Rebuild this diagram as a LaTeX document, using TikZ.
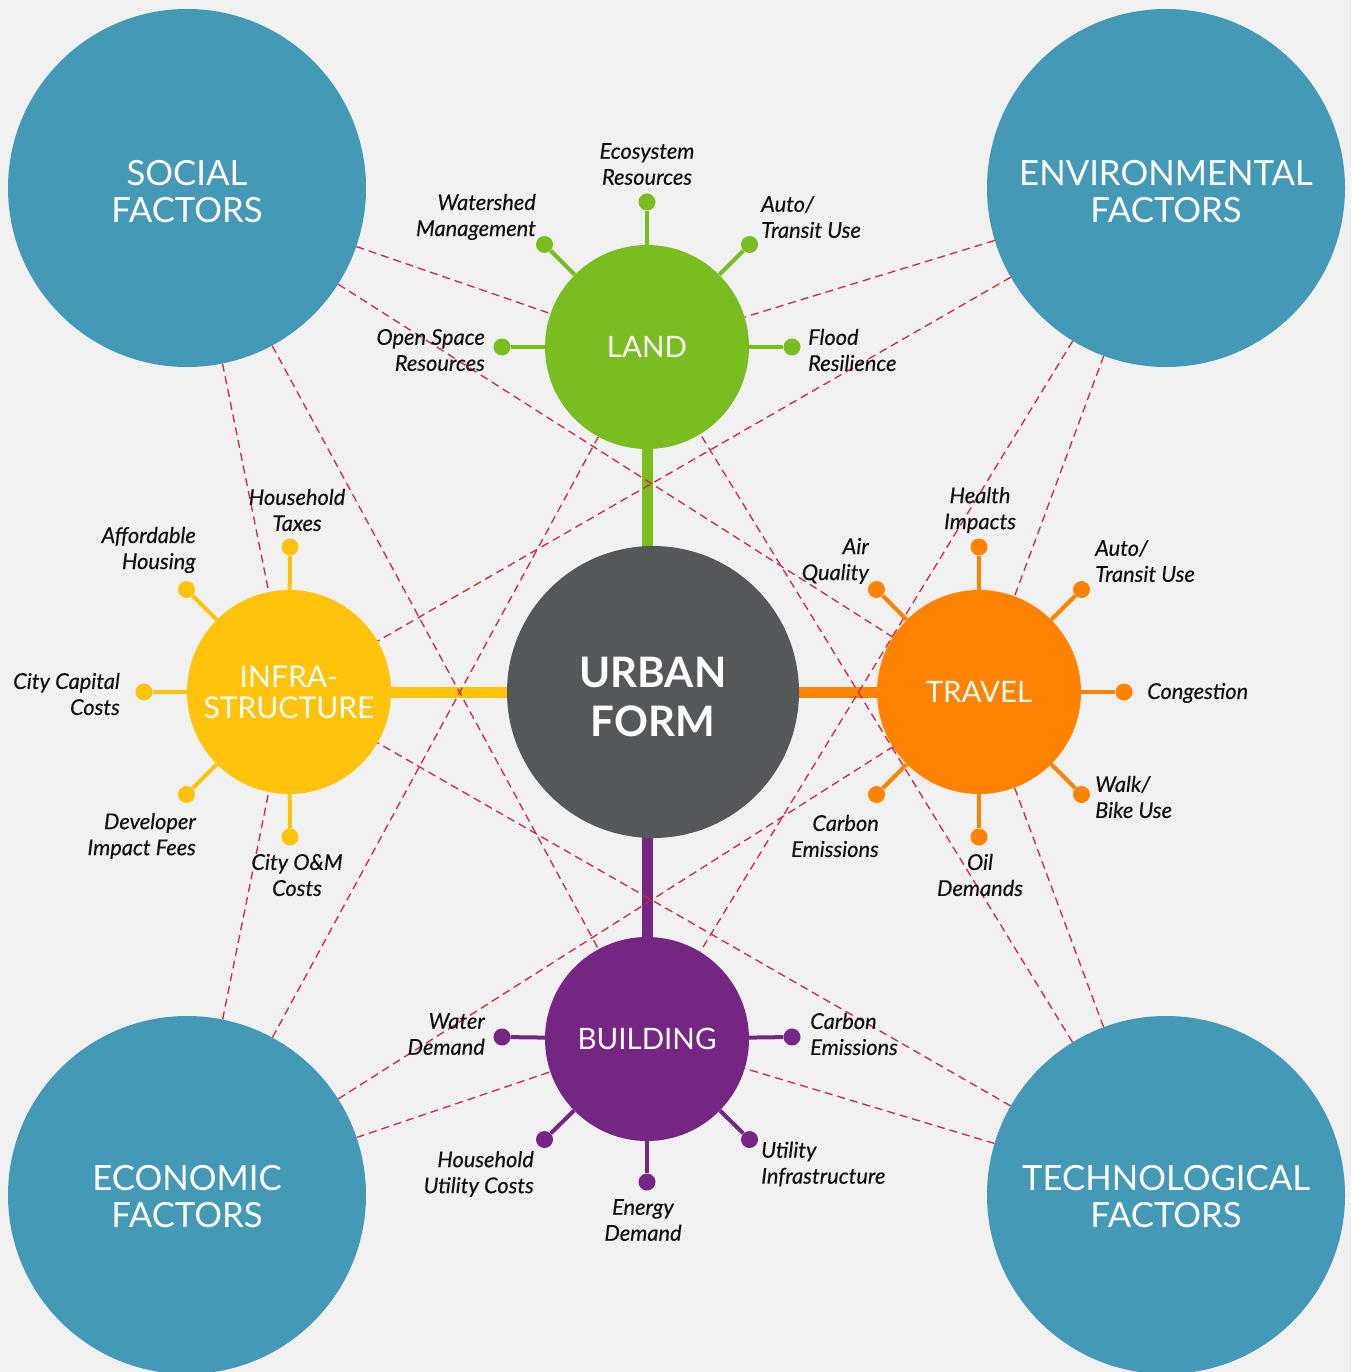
\documentclass[tikz,border=0pt]{standalone}
\usepackage{fontspec}
\setmainfont{Lato}
\newfontfamily\lblfont{Lato}[FakeBold=0.35]
\usetikzlibrary{backgrounds}
\definecolor{bgc}{HTML}{F1F1F1}
\definecolor{teal1}{HTML}{4499B6}
\definecolor{green1}{HTML}{7ABD21}
\definecolor{yel1}{HTML}{FFC30B}
\definecolor{org1}{HTML}{FF8300}
\definecolor{pur1}{HTML}{752582}
\definecolor{gray1}{HTML}{54585A}
\definecolor{red1}{HTML}{D2243D}
\definecolor{ink}{HTML}{111111}
\begin{document}
\begin{tikzpicture}[x=1pt,y=-1pt,
  big/.style={circle,fill=teal1,minimum size=358pt,inner sep=0pt},
  bigtxt/.style={inner sep=0pt,text=white,align=center,font=\fontsize{34.7}{37}\selectfont,yshift=-4pt},
  small/.style={circle,minimum size=204pt,inner sep=0pt,text=white,align=center,font=\fontsize{29.5}{30}\selectfont},
  dot/.style={circle,minimum size=17pt,inner sep=0pt},
  spoke/.style={line width=4pt},
  bar/.style={line width=11pt},
  lbl/.style={inner sep=0pt,font=\lblfont\fontsize{21.8}{26}\selectfont\itshape,text=ink},
  rel/.style={draw=red1,line width=1.3pt,dash pattern=on 8pt off 5pt},
]
\useasboundingbox (0,0) rectangle (1351,1372);
% big factor circles
\node[big] (soc) at (187,188) {};
\node[big] (env) at (1166,188) {};
\node[big] (eco) at (187,1195) {};
\node[big] (tec) at (1166,1195) {};
\node[bigtxt] (soct) at (soc.center) {SOCIAL\\FACTORS};
\node[bigtxt] (envt) at (env.center) {ENVIRONMENTAL\\FACTORS};
\node[bigtxt,yshift=2pt] (ecot) at (eco.center) {ECONOMIC\\FACTORS};
\node[bigtxt,yshift=2pt] (tect) at (tec.center) {TECHNOLOGICAL\\FACTORS};
% central
\node[circle,fill=gray1,minimum size=292pt,inner sep=0pt] (urban) at (653,692) {};
\node[inner sep=0pt,text=white,align=center,font=\fontsize{42}{49}\selectfont\bfseries,yshift=-5pt] (urbant) at (urban.center) {URBAN\\FORM};
% sub circles
\node[small,fill=green1] (land) at (647,347) {LAND};
\node[small,fill=yel1,font=\fontsize{30}{31}\selectfont] (infra) at (289,692) {INFRA-\\STRUCTURE};
\node[small,fill=org1] (trav) at (979,692) {TRAVEL};
\node[small,fill=pur1] (bld) at (647,1039) {BUILDING};
% ---- LAND spokes
\node[dot,fill=green1] (l1) at (647,202) {};
\node[dot,fill=green1] (l2) at (544.5,244.5) {};
\node[dot,fill=green1] (l3) at (749.5,244.5) {};
\node[dot,fill=green1] (l4) at (502,347) {};
\node[dot,fill=green1] (l5) at (792,347) {};
\foreach \d in {l1,l2,l3,l4,l5} \draw[spoke,green1] (land) -- (\d);
\node[lbl,align=center] (tl1) at (647,164) {Ecosystem\\Resources};
\node[lbl,align=right,anchor=east] (tl2) at (536,217) {Watershed\\Management};
\node[lbl,align=left,anchor=west] (tl3) at (761,217) {Auto/\\Transit Use};
\node[lbl,align=right,anchor=east] (tl4) at (485,350) {Open Space\\Resources};
\node[lbl,align=left,anchor=west] (tl5) at (808,350) {Flood\\Resilience};
% ---- INFRA spokes
\node[dot,fill=yel1] (i1) at (290,547) {};
\node[dot,fill=yel1] (i2) at (186.5,589.5) {};
\node[dot,fill=yel1] (i3) at (144,692) {};
\node[dot,fill=yel1] (i4) at (186.5,794.5) {};
\node[dot,fill=yel1] (i5) at (290,837) {};
\foreach \d in {i1,i2,i3,i4,i5} \draw[spoke,yel1] (infra) -- (\d);
\node[lbl,align=center] (ti1) at (297,510) {Household\\Taxes};
\node[lbl,align=right,anchor=east] (ti2) at (196,550) {Affordable\\Housing};
\node[lbl,align=right,anchor=east] (ti3) at (120,694) {City Capital\\Costs};
\node[lbl,align=right,anchor=east] (ti4) at (196,836) {Developer\\Impact Fees};
\node[lbl,align=center] (ti5) at (297,875) {City O\&M\\Costs};
% ---- TRAVEL spokes
\node[dot,fill=org1] (t1) at (979,547) {};
\node[dot,fill=org1] (t2) at (1081.5,589.5) {};
\node[dot,fill=org1] (t3) at (1124,692) {};
\node[dot,fill=org1] (t4) at (1081.5,794.5) {};
\node[dot,fill=org1] (t5) at (979,837) {};
\node[dot,fill=org1] (t6) at (876.5,794.5) {};
\node[dot,fill=org1] (t7) at (876.5,589.5) {};
\foreach \d in {t1,t2,t3,t4,t5,t6,t7} \draw[spoke,org1] (trav) -- (\d);
\node[lbl,align=center] (tt1) at (980,510) {Health\\Impacts};
\node[lbl,align=left,anchor=west] (tt2) at (1095,561) {Auto/\\Transit Use};
\node[lbl,anchor=west] (tt3) at (1147,693) {Congestion};
\node[lbl,align=left,anchor=west] (tt4) at (1095,797) {Walk/\\Bike Use};
\node[lbl,align=center] (tt5) at (980,875) {Oil\\Demands};
\node[lbl,align=right,anchor=east] (tt6) at (879,836) {Carbon\\Emissions};
\node[lbl,align=right,anchor=east] (tt7) at (869,561) {Air\\Quality};
% ---- BUILDING spokes
\node[dot,fill=pur1] (b1) at (502,1037) {};
\node[dot,fill=pur1] (b2) at (792,1037) {};
\node[dot,fill=pur1] (b3) at (544.5,1139.5) {};
\node[dot,fill=pur1] (b4) at (647,1182) {};
\node[dot,fill=pur1] (b5) at (749.5,1139.5) {};
\foreach \d in {b1,b2,b3,b4,b5} \draw[spoke,pur1] (bld) -- (\d);
\node[lbl,align=right,anchor=east] (tb1) at (485,1034) {Water\\Demand};
\node[lbl,align=left,anchor=west] (tb2) at (810,1034) {Carbon\\Emissions};
\node[lbl,align=right,anchor=east] (tb3) at (534,1174) {Household\\Utility Costs};
\node[lbl,align=center] (tb4) at (643,1220) {Energy\\Demand};
\node[lbl,align=left,anchor=west] (tb5) at (761,1164) {Utility\\Infrastructure};
% ---- background: fill, bars, relation lines
\begin{scope}[on background layer]
\fill[bgc] (0,0) rectangle (1351,1372);
\draw[bar,green1] (land.center) -- (land.center |- urban.center);
\draw[bar,pur1] (bld.center) -- (bld.center |- urban.center);
\draw[bar,yel1] (infra.center) -- (urban.center);
\draw[bar,org1] (trav.center) -- (urban.center);
\foreach \f in {soc,env,eco,tec}
  \foreach \s in {land,infra,trav,bld}
    \draw[rel] (\f) -- (\s);
\end{scope}
\end{tikzpicture}
\end{document}
